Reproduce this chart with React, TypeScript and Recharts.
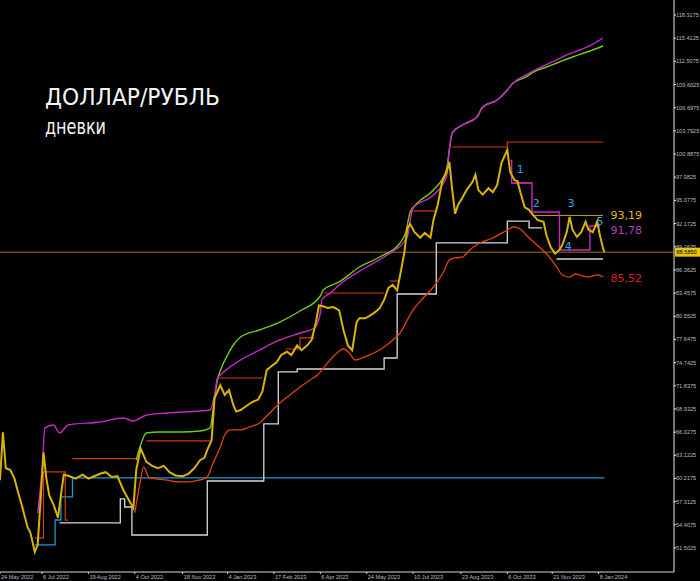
import { ComposedChart, Line, XAxis, YAxis, ReferenceLine, ReferenceDot } from "recharts";

type Pt = [number, number | null];

// bar index (trading days from 24 May 2022) -> price
const price: Pt[] = [
  [0, 60.0], [2, 66.0], [4, 61.5], [7, 61.3], [10, 60.2], [12, 58.8], [15, 56.9], [19, 54.1], [21, 53.4],
  [24, 51.0], [26, 51.9], [28, 57.5], [30, 63.5], [32, 60.2], [34, 58.1], [37, 56.9], [40, 55.3], [42, 58.1],
  [44, 60.7], [48, 60.5], [52, 60.2], [57, 60.7], [61, 60.2], [65, 60.5], [69, 60.8], [73, 61.0], [77, 60.4],
  [81, 60.5], [85, 58.8], [88, 57.8], [92, 56.5], [94, 61.3], [97, 64.0], [101, 62.3], [105, 61.8], [109, 61.5],
  [113, 61.8], [117, 61.0], [121, 60.6], [126, 60.5], [130, 60.8], [134, 61.5], [138, 62.5], [141, 62.8],
  [143, 63.8], [146, 65.0], [148, 70.3], [150, 71.1], [152, 71.9], [155, 70.7], [158, 71.3], [161, 69.4],
  [163, 68.6], [166, 68.8], [170, 69.3], [174, 69.8], [178, 70.1], [181, 71.1], [184, 73.8], [188, 74.4],
  [191, 74.8], [194, 75.7], [198, 76.1], [201, 75.7], [205, 76.9], [208, 76.3], [212, 76.9], [215, 77.6],
  [218, 79.8], [220, 81.9], [223, 81.8], [226, 81.6], [230, 81.7], [234, 81.3], [237, 78.8], [240, 76.9],
  [243, 76.3], [246, 79.8], [248, 80.3], [252, 80.3], [255, 80.6], [259, 81.1], [262, 81.6], [265, 82.6],
  [268, 84.1], [271, 84.5], [274, 83.8], [277, 86.6], [279, 88.6], [281, 91.6], [283, 92.1], [286, 91.1],
  [290, 90.4], [293, 91.0], [297, 90.4], [299, 92.6], [302, 94.5], [305, 97.4], [308, 98.6], [310, 99.9],
  [312, 96.4], [314, 93.4], [316, 94.5], [319, 95.4], [322, 96.4], [326, 97.4], [328, 98.3], [330, 96.4],
  [333, 95.8], [337, 96.6], [340, 96.1], [343, 97.0], [346, 99.8], [350, 101.4], [352, 98.6], [355, 97.6],
  [357, 97.5], [359, 96.1], [362, 94.2], [365, 93.9], [368, 93.2], [371, 92.6], [375, 92.4], [377, 90.7],
  [380, 89.2], [383, 88.4], [386, 88.9], [388, 89.5], [391, 91.1], [393, 93.0], [395, 91.4], [398, 90.5],
  [401, 91.1], [404, 92.4], [406, 91.4], [409, 91.1], [412, 92.4], [414, 90.6], [416, 89.1], [417, 88.6],
];

const upperGreen: Pt[] = [
  [94, 62.53], [97, 64.42], [101, 65.92], [110, 66.04], [124, 66.04], [138, 66.17], [145, 66.55], [147, 68.8],
  [150, 72.56], [153, 74.19], [157, 75.7], [161, 76.95], [166, 77.95], [179, 78.83], [193, 79.83], [207, 81.21],
  [221, 83.09], [223, 83.85], [234, 84.85], [248, 86.73], [262, 87.98], [276, 89.74], [280, 91.12], [283, 93.62],
  [288, 94.75], [299, 96.38], [308, 98.89], [310, 101.4], [312, 103.53], [319, 104.53], [329, 105.53],
  [333, 106.79], [343, 107.66], [350, 108.92], [354, 109.79], [363, 110.55], [368, 111.17], [377, 111.8],
  [386, 112.43], [395, 113.05], [405, 113.68], [416, 114.43],
];

const upperMagenta: Pt[] = [
  [26, 55.89], [29, 61.28], [31, 66.55], [37, 66.92], [41, 65.92], [47, 66.92], [69, 67.3], [85, 67.8],
  [92, 67.42], [101, 68.17], [115, 68.43], [138, 68.68], [145, 68.8], [148, 70.68], [150, 72.81], [152, 73.19],
  [166, 75.07], [179, 76.32], [193, 77.58], [207, 78.45], [217, 79.08], [221, 80.96], [222, 82.59],
  [228, 83.47], [234, 84.47], [253, 86.73], [267, 88.23], [281, 90.49], [283, 92.62], [285, 94.12],
  [299, 95.75], [308, 98.01], [310, 101.4], [312, 103.53], [319, 104.53], [329, 105.53], [333, 106.79],
  [343, 107.66], [350, 108.92], [354, 109.79], [363, 110.8], [372, 111.68], [381, 112.43], [391, 113.31],
  [400, 113.93], [409, 114.68], [416, 115.44],
];

const trendOrange: Pt[] = [
  [93, 55.89], [97, 60.03], [99, 61.66], [103, 60.28], [114, 60.03], [124, 59.78], [129, 59.78], [138, 60.03],
  [143, 60.4], [147, 62.16], [152, 64.16], [155, 65.67], [159, 66.3], [166, 66.3], [172, 66.67], [179, 67.17],
  [186, 68.43], [193, 69.68], [200, 70.68], [207, 71.69], [214, 72.56], [219, 73.19], [226, 74.69],
  [231, 75.7], [237, 76.45], [241, 75.95], [245, 75.07], [250, 75.32], [255, 75.7], [264, 76.57], [271, 77.58],
  [276, 78.45], [281, 80.08], [285, 81.34], [292, 82.84], [299, 84.22], [306, 86.1], [310, 87.61],
  [314, 87.86], [319, 87.98], [324, 88.86], [331, 89.74], [340, 90.36], [350, 91.37], [354, 91.74],
  [359, 91.49], [363, 90.74], [372, 89.24], [379, 87.98], [384, 86.73], [388, 85.73], [393, 85.48],
  [397, 85.85], [400, 85.73], [405, 85.48], [409, 85.6], [412, 85.73], [416, 85.48],
];

const stopWhite: Pt[] = [
  [41, 54.64], [83, 57.65], [86, 56.64], [91, 53.13], [143, 59.9], [182, 67.05], [192, 73.57], [205, 73.94],
  [265, 75.32], [274, 83.34], [301, 89.74], [350, 92.49], [365, 91.62], [374, 91.62], [375, null],
  [384, 87.73], [416, 87.73],
];

const stopCyan: Pt[] = [[24, 51.88], [38, 55.01], [42, 57.9], [50, 60.3], [417, 60.3]];

const stopMagenta: Pt[] = [[352, 100.1], [353, 97.26], [367, 93.62], [386, 88.86], [407, 91.87], [414, 91.87]];

const levels: Pt[][] = [
  [[24, 52.76], [30, 61.03], [45, 55.0], [47, 55.0]],
  [[50, 62.7], [95, 62.7]],
  [[101, 64.92], [145, 64.92]],
  [[150, 72.81], [181, 72.81]],
  [[197, 76.45], [207, 77.83], [217, 77.83]],
  [[224, 83.47], [265, 83.47]],
  [[269, 84.97], [276, 84.97]],
  [[285, 93.75], [301, 93.75]],
  [[312, 101.77], [350, 102.4], [416, 102.4]],
  [[354, 97.26], [367, 97.26]],
];

const goldLevel: Pt[] = [[367, 93.19], [416, 93.19]];
const lastPrice = 88.585;

const waveMarks = [
  { label: "1", bar: 359, value: 99.0 },
  { label: "2", bar: 370, value: 94.75 },
  { label: "3", bar: 394, value: 94.75 },
  { label: "4", bar: 392, value: 89.36 },
  { label: "5", bar: 414, value: 92.5 },
];

const valueNotes = [
  { label: "93,19", bar: 432, value: 93.25, color: "#e2be1c" },
  { label: "91,78", bar: 432, value: 91.37, color: "#b83cc4" },
  { label: "85,52", bar: 432, value: 85.35, color: "#d82020" },
];

const xTicks = [0, 29, 61, 93, 126, 157, 189, 221, 253, 285, 318, 350, 381, 413];
const xTickLabels = [
  "24 May 2022", "6 Jul 2022", "19 Aug 2022", "4 Oct 2022", "18 Nov 2022", "4 Jan 2023", "17 Feb 2023",
  "6 Apr 2023", "24 May 2023", "10 Jul 2023", "23 Aug 2023", "6 Oct 2023", "21 Nov 2023", "8 Jan 2024",
];

const yTicks = [
  51.5025, 54.4075, 57.3125, 60.2175, 63.1225, 66.0275, 68.9325, 71.8375, 74.7425, 77.6475, 80.5525,
  83.4575, 86.3625, 89.2675, 92.1725, 95.0775, 97.9825, 100.8875, 103.7925, 106.6975, 109.6025, 112.5075,
  115.4125, 118.3175,
];

const rows = (pts: Pt[]) => pts.map(([bar, v]) => ({ bar, v }));

const XTick = (props: any) => {
  const { x, y, payload, index } = props;
  return (
    <text x={x + 1} y={y + 4.5} fill="#bdbdbd" fontSize={5.6} fontFamily="Liberation Sans" textAnchor="start">
      {xTickLabels[index] ?? payload.value}
    </text>
  );
};

const YTick = (props: any) => {
  const { x, y, payload } = props;
  return (
    <text x={x} y={y + 2} fill="#bdbdbd" fontSize={5.6} fontFamily="Liberation Sans" textAnchor="start">
      {payload.value.toFixed(4)}
    </text>
  );
};

const PriceTag = (props: any) => {
  const vb = props.viewBox;
  if (!vb) return null;
  const x = vb.x + vb.width;
  return (
    <g>
      <rect x={x + 1} y={vb.y - 4.5} width={25} height={9} fill="#e8c400" />
      <text x={x + 2.5} y={vb.y + 2} fontSize={5.6} fontFamily="Liberation Sans" fill="#000">
        88.5850
      </text>
    </g>
  );
};

const lineProps = { dot: false, activeDot: false, isAnimationActive: false, dataKey: "v" } as const;

export default function App() {
  return (
    <div style={{ position: "absolute", left: 0, top: 0, width: 700, height: 581, background: "#000" }}>
      <ComposedChart width={700} height={581} margin={{ top: 0, right: 0, bottom: 0, left: 0 }}>
        <XAxis
          dataKey="bar"
          type="number"
          domain={[0, 465]}
          allowDataOverflow
          ticks={xTicks}
          tick={<XTick />}
          height={9}
          tickSize={2}
          tickMargin={0}
          stroke="#d8d8d8"
          interval={0}
        />
        <YAxis
          orientation="right"
          type="number"
          domain={[48.49, 120.2]}
          allowDataOverflow
          ticks={yTicks}
          tick={<YTick />}
          width={26}
          tickSize={2}
          tickMargin={0}
          stroke="#e8e8e8"
          interval={0}
        />

        <ReferenceLine y={lastPrice} stroke="#9c7c00" strokeWidth={1} label={<PriceTag />} />

        <Line {...lineProps} data={rows(stopCyan)} type="stepAfter" stroke="#1c9ccb" strokeWidth={1.3} />
        <Line {...lineProps} data={rows(stopWhite)} type="stepAfter" stroke="#d6d6d6" strokeWidth={1.3} />
        {levels.map((lv, i) => (
          <Line key={i} {...lineProps} data={rows(lv)} type="stepAfter" stroke="#d23a08" strokeWidth={1.2} />
        ))}
        <Line {...lineProps} data={rows(goldLevel)} type="linear" stroke="#c9a400" strokeWidth={1} />
        <Line {...lineProps} data={rows(trendOrange)} type="monotone" stroke="#e2420c" strokeWidth={1.3} />
        <Line {...lineProps} data={rows(upperGreen)} type="monotone" stroke="#72cc10" strokeWidth={1.4} />
        <Line {...lineProps} data={rows(upperMagenta)} type="monotone" stroke="#c828c8" strokeWidth={1.4} />
        <Line {...lineProps} data={rows(stopMagenta)} type="stepAfter" stroke="#c828c8" strokeWidth={1.4} />
        <Line {...lineProps} data={rows(price)} type="linear" stroke="#d8b400" strokeWidth={2} />

        {waveMarks.map((m) => (
          <ReferenceDot
            key={m.label}
            x={m.bar}
            y={m.value}
            r={0}
            fill="none"
            stroke="none"
            label={{ value: m.label, fill: "#2ea6e2", fontSize: 11, position: "center", fontFamily: "DejaVu Sans" }}
          />
        ))}
        {valueNotes.map((n) => (
          <ReferenceDot
            key={n.label}
            x={n.bar}
            y={n.value}
            r={0}
            fill="none"
            stroke="none"
            label={{ value: n.label, fill: n.color, fontSize: 11, position: "center", fontFamily: "DejaVu Sans" }}
          />
        ))}
      </ComposedChart>

      <svg width={700} height={581} style={{ position: "absolute", left: 0, top: 0, pointerEvents: "none" }}>
        <text x={45} y={105} fill="#f4f4f4" fontSize={23} fontFamily="DejaVu Sans" textLength={175} lengthAdjust="spacingAndGlyphs">
          ДОЛЛАР/РУБЛЬ
        </text>
        <text x={45} y={134} fill="#f4f4f4" fontSize={21} fontFamily="DejaVu Sans" textLength={61} lengthAdjust="spacingAndGlyphs">
          дневки
        </text>
      </svg>
    </div>
  );
}
